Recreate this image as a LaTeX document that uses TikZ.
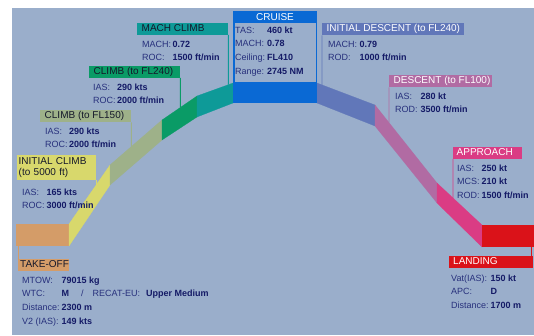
\documentclass[tikz,border=0pt]{standalone}
\usepackage{fontspec}
\setmainfont{Liberation Sans}
\definecolor{bg}{HTML}{9AAECB}
\definecolor{toC}{HTML}{D49C68}
\definecolor{icC}{HTML}{D8D86C}
\definecolor{c1C}{HTML}{9EB189}
\definecolor{c2C}{HTML}{0A9B66}
\definecolor{mcC}{HTML}{0E9A98}
\definecolor{crC}{HTML}{0A69D4}
\definecolor{idC}{HTML}{6177B9}
\definecolor{dsC}{HTML}{B16BA3}
\definecolor{apC}{HTML}{DA3C84}
\definecolor{ldC}{HTML}{DA1219}
\definecolor{lab}{HTML}{27307C}
\definecolor{val}{HTML}{141A66}
\definecolor{dk}{HTML}{15182A}
\newcommand\vv[1]{\textcolor{val}{\textbf{#1}}}
\newcommand\hbx[2]{\makebox[#1][l]{#2}}
\begin{document}
\begin{tikzpicture}[x=1pt,y=-1pt,
  hdr/.style={anchor=north west, inner xsep=4.5pt, inner ysep=0pt, minimum height=12pt,
    text height=7.3pt, text depth=2pt, font=\fontsize{10}{11}\selectfont},
  info/.style={anchor=north west, inner sep=0pt, text=lab, font=\fontsize{9}{13.6}\selectfont},
  conn/.style={line width=0.9pt}]
\useasboundingbox (0,0) rectangle (534,335);
\fill[white] (0,0) rectangle (534,335);
\fill[bg] (12,7.5) rectangle (534,335);
% band points
\coordinate (t0) at (69,224);  \coordinate (b0) at (69,246);
\coordinate (t1) at (110,165); \coordinate (b1) at (110,185);
\coordinate (t2) at (162,120); \coordinate (b2) at (162,140);
\coordinate (t3) at (197,96);  \coordinate (b3) at (197,117);
\coordinate (t4) at (233,83);  \coordinate (b4) at (233,103);
\coordinate (t5) at (317,83);  \coordinate (b5) at (317,103);
\coordinate (t6) at (375,105); \coordinate (b6) at (375,126);
\coordinate (t7) at (437,183); \coordinate (b7) at (437,203);
\coordinate (t8) at (482,225); \coordinate (b8) at (482,247);
% band segments
\node[fill=toC, anchor=north west, inner sep=0pt, minimum width=53pt, minimum height=22pt] (to) at (16,224) {};
\filldraw[icC, line width=0.2pt] (t0) -- (t1) -- (b1) -- (b0) -- cycle;
\filldraw[c1C, line width=0.2pt] (t1) -- (t2) -- (b2) -- (b1) -- cycle;
\filldraw[c2C, line width=0.2pt] (t2) -- (t3) -- (b3) -- (b2) -- cycle;
\filldraw[mcC, line width=0.2pt] (t3) -- (t4) -- (b4) -- (b3) -- cycle;
\filldraw[idC, line width=0.2pt] (t5) -- (t6) -- (b6) -- (b5) -- cycle;
\filldraw[dsC, line width=0.2pt] (t6) -- (t7) -- (b7) -- (b6) -- cycle;
\filldraw[apC, line width=0.2pt] (t7) -- (t8) -- (b8) -- (b7) -- cycle;
\node[fill=ldC, anchor=north west, inner sep=0pt, minimum width=52pt, minimum height=22pt] (ld) at (482,225) {};
% cruise
\node[fill=crC, anchor=north west, inner sep=0pt, minimum width=84pt, minimum height=92pt] (cr) at (233,11) {};
\node[fill=bg, anchor=north west, inner sep=0pt, minimum width=81.4pt, minimum height=59.5pt] (crin) at (234.3,22.5) {};
\node[text=white, font=\fontsize{10}{11}\selectfont, inner sep=0pt] (crh) at (275,16.8) {CRUISE};
\node[info] (cri) at (235,23.5) {\begin{tabular}{@{}l@{\hspace{2pt}}l@{}}
TAS: & \vv{460 kt}\\ MACH: & \vv{0.78}\\ Ceiling: & \vv{FL410}\\ Range: & \vv{2745 NM}\end{tabular}};
% headers
\node[hdr, fill=toC, text=dk, inner xsep=2pt] (hto) at (18,258.5) {\hbx{47pt}{TAKE-OFF}};
\node[anchor=north west, fill=icC, text=dk, inner xsep=1.5pt, inner ysep=1.5pt, text width=76pt, minimum height=25pt, align=left, font=\fontsize{10}{11}\selectfont] (hic) at (17,155) {INITIAL CLIMB\\(to 5000 ft)};
\node[hdr, fill=c1C, text=dk] (hc1) at (40,110) {\hbx{82pt}{CLIMB (to FL150)}};
\node[hdr, fill=c2C, text=dk] (hc2) at (89,65.5) {\hbx{82pt}{CLIMB (to FL240)}};
\node[hdr, fill=mcC, text=dk] (hmc) at (137,22.5) {\hbx{82pt}{MACH CLIMB}};
\node[hdr, fill=idC, text=white] (hid) at (322,23) {\hbx{133pt}{INITIAL DESCENT (to FL240)}};
\node[hdr, fill=dsC, text=white] (hds) at (389,75) {\hbx{94pt}{DESCENT (to FL100)}};
\node[hdr, fill=apC, text=white, inner xsep=3.5pt] (hap) at (453,146.5) {\hbx{62pt}{APPROACH}};
\node[hdr, fill=ldC, text=white, inner xsep=4pt] (hld) at (449,255.5) {\hbx{76pt}{LANDING}};
% helper coordinates for vertical connectors
\coordinate (vic) at ([yshift=-40pt]hic.south east);
\coordinate (vc1) at ([yshift=-40pt]hc1.south east);
\coordinate (vc2) at ([yshift=-40pt]hc2.south east);
\coordinate (vmc) at ([yshift=-40pt]hmc.south east);
\coordinate (vid) at ([yshift=-40pt]hid.south west);
\coordinate (vds) at ([yshift=-40pt]hds.south west);
\coordinate (vap) at ([yshift=-40pt]hap.south west);
% connectors
\draw[conn, icC] (hic.south east) -- (intersection of hic.south east--vic and t0--t1);
\draw[conn, c1C] (hc1.south east) -- (intersection of hc1.south east--vc1 and t1--t2);
\draw[conn, c2C] (hc2.south east) -- (intersection of hc2.south east--vc2 and t2--t3);
\draw[conn, mcC] (hmc.south east) -- (intersection of hmc.south east--vmc and t3--t4);
\draw[conn, idC] (hid.south west) -- (intersection of hid.south west--vid and t5--t6);
\draw[conn, dsC] (hds.south west) -- (intersection of hds.south west--vds and t6--t7);
\draw[conn, apC] (hap.south west) -- (intersection of hap.south west--vap and t7--t8);
\draw[conn, toC] ([xshift=0.5pt]hto.north west) -- ([xshift=0.5pt]hto.north west |- to.south);
\draw[conn, ldC] ([xshift=-1.5pt]hld.north east) -- ([xshift=-1.5pt]hld.north east |- ld.south);
% info blocks
\node[info] (ito) at (22,273.5) {\begin{tabular}{@{}l@{\hspace{2pt}}l@{}}
MTOW: & \vv{79015 kg}\\
WTC: & \vv{M}\hspace{12pt}/\hspace{9pt}RECAT-EU:\hspace{6pt}\vv{Upper Medium}\\
Distance: & \vv{2300 m}\\
V2 (IAS): & \vv{149 kts}\end{tabular}};
\node[info] (iic) at (22,185.5) {\begin{tabular}{@{}l@{\hspace{2pt}}l@{}}
IAS: & \vv{165 kts}\\ ROC: & \vv{3000 ft/min}\end{tabular}};
\node[info] (ic1) at (45,124.5) {\begin{tabular}{@{}l@{\hspace{1.5pt}}l@{}}
IAS: & \vv{290 kts}\\ ROC: & \vv{2000 ft/min}\end{tabular}};
\node[info] (ic2) at (93,80.5) {\begin{tabular}{@{}l@{\hspace{1.5pt}}l@{}}
IAS: & \vv{290 kts}\\ ROC: & \vv{2000 ft/min}\end{tabular}};
\node[info] (imc) at (142,37.5) {\begin{tabular}{@{}l@{\hspace{1.5pt}}l@{}}
MACH: & \vv{0.72}\\ ROC: & \vv{1500 ft/min}\end{tabular}};
\node[info] (iid) at (328,37.5) {\begin{tabular}{@{}l@{\hspace{2.5pt}}l@{}}
MACH: & \vv{0.79}\\ ROD: & \vv{1000 ft/min}\end{tabular}};
\node[info] (ids) at (395,89.5) {\begin{tabular}{@{}l@{\hspace{3pt}}l@{}}
IAS: & \vv{280 kt}\\ ROD: & \vv{3500 ft/min}\end{tabular}};
\node[info] (iap) at (457,161.5) {\begin{tabular}{@{}l@{\hspace{2pt}}l@{}}
IAS: & \vv{250 kt}\\ MCS: & \vv{210 kt}\\ ROD: & \vv{1500 ft/min}\end{tabular}};
\node[info] (ild) at (451,271.5) {\begin{tabular}{@{}l@{\hspace{2pt}}l@{}}
Vat(IAS): & \vv{150 kt}\\ APC: & \vv{D}\\ Distance: & \vv{1700 m}\end{tabular}};
\end{tikzpicture}
\end{document}
